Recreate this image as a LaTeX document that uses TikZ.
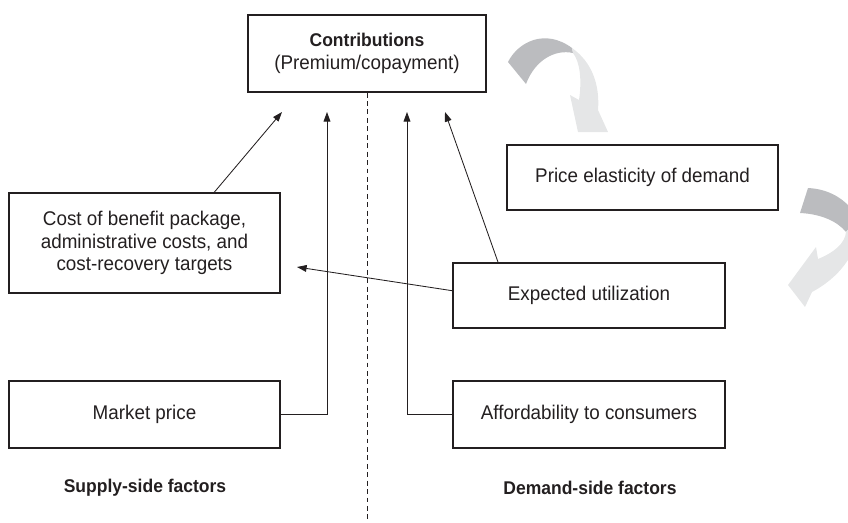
\documentclass[tikz,border=0pt]{standalone}
\usepackage{fontspec}
\setmainfont{Liberation Sans}[FakeStretch = 0.95]
\usetikzlibrary{arrows.meta}
\definecolor{ink}{RGB}{35,31,32}
\definecolor{arrowdark}{RGB}{187,188,191}
\definecolor{arrowlight}{RGB}{229,230,231}

\begin{document}
\begin{tikzpicture}[x = 0.025cm, y = -0.025cm, color = ink, font = \fontsize{14.1}{16}\selectfont,
	factor/.style = {draw, line width = 0.8pt, inner sep = 0pt, align = center},
	heading/.style = {font = \fontsize{13.1}{15}\selectfont\bfseries},
	link/.style = {line width = 0.6pt, -{Triangle[length = 2.4mm, width = 1.7mm]}}]
\useasboundingbox (0,0) rectangle (848,522);
\node[factor, minimum width = 5.95cm, minimum height = 1.925cm] (contrib) at (367,53.5) {{\fontsize{13.1}{14.5}\selectfont\bfseries Contributions}\\(Premium/copayment)};
\node[factor, minimum width = 6.775cm, minimum height = 2.5cm] (cost) at (144.5,243) {Cost of benefit package,\\administrative costs, and\\cost-recovery targets};
\node[factor, minimum width = 6.775cm, minimum height = 1.675cm] (market) at (144.5,414.5) {Market price};
\node[factor, minimum width = 6.775cm, minimum height = 1.625cm] (price) at (642.5,177.5) {Price elasticity of demand};
\node[factor, minimum width = 6.8cm, minimum height = 1.625cm] (expected) at (589,295.5) {Expected utilization};
\node[factor, minimum width = 6.8cm, minimum height = 1.675cm] (afford) at (589,414.5) {Affordability to consumers};
\foreach \x / \side in {145/Supply, 590/Demand}
{
	\node[heading] (\side) at (\x,488) {\side-side factors};
}
\foreach \name / \x in {tipA/282, tipB/327, tipC/407, tipD/445}
{
	\coordinate (\name) at (\x,112);
}
\coordinate (tipE) at (297,267);
\coordinate (dashend) at (367,522);
\draw[dashed, line width = 0.6pt, dash pattern = on 3.5pt off 2.5pt] (contrib.south) -- (dashend);
\draw[link] (cost.36) -- (tipA);
\draw[link] (market.east) -| (tipB);
\draw[link] (afford.west) -| (tipC);
\draw[link] (expected.160.5) -- (tipD);
\draw[link] (expected.178.5) -- (tipE);
\begin{scope}
\clip (0,0) rectangle (848,522);
\fill[arrowdark] (508,62) .. controls (518,42) and (545,28) .. (572,48) -- (573,53) .. controls (555,49) and (535,60) .. (526,84) -- cycle;
\fill[arrowlight] (572,48) .. controls (592,62) and (600,85) .. (598,110) -- (608,132) -- (578,132) -- (570,95) -- (579,100) .. controls (582,80) and (580,62) .. (573,53) -- cycle;
\fill[arrowdark] (808,188) .. controls (828,189) and (846,198) .. (858,218) -- (846,232) .. controls (838,222) and (822,214) .. (800,213) -- cycle;
\fill[arrowlight] (858,218) .. controls (862,248) and (842,276) .. (812,292) -- (805,307) -- (788,285) -- (816,247) -- (818,259) .. controls (835,252) and (845,243) .. (846,232) -- cycle;
\end{scope}
\end{tikzpicture}
\end{document}
